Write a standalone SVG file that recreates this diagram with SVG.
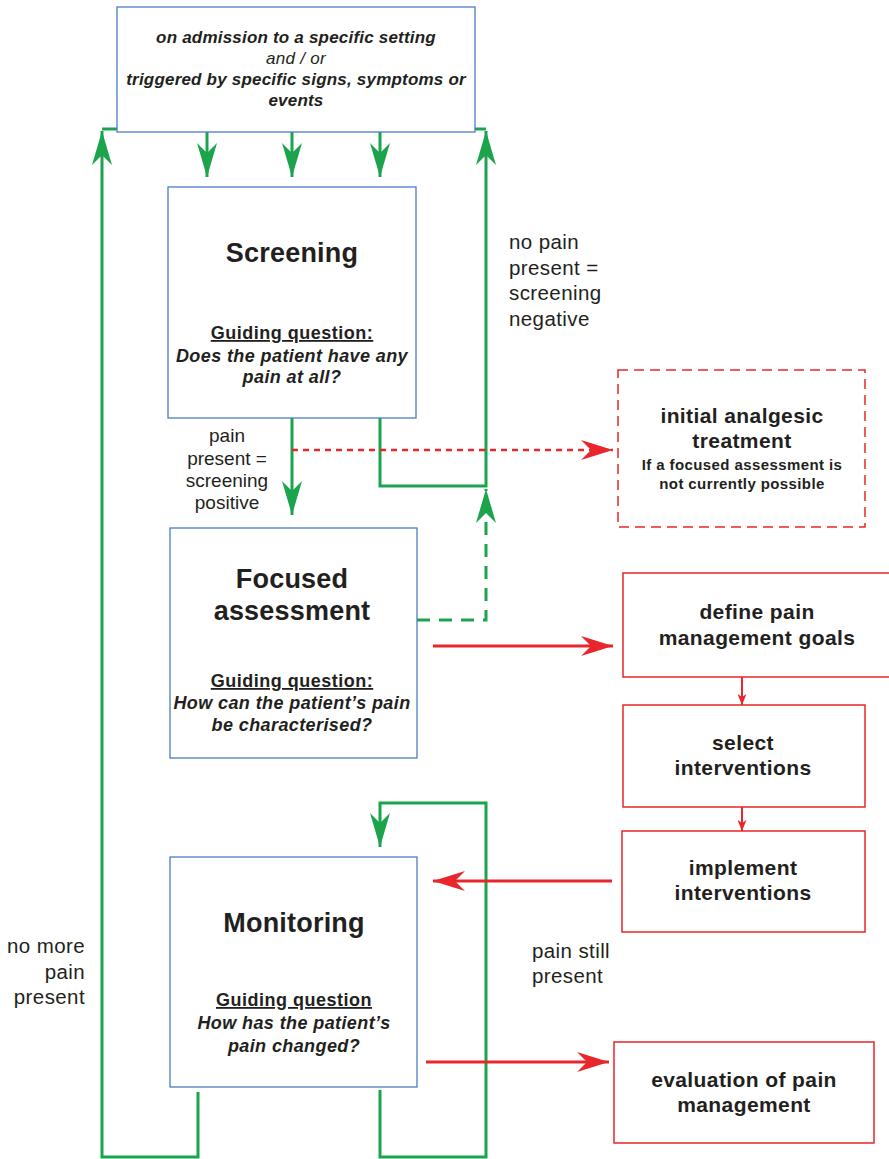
<svg xmlns="http://www.w3.org/2000/svg" width="889" height="1159" viewBox="0 0 889 1159">
<style>
text{font-family:"Liberation Sans",Arial,sans-serif;fill:#231f20;text-anchor:middle}
.box{fill:#fff;stroke:#4a7dc0;stroke-width:1.3}
.rbox{fill:#fff;stroke:#e8262b;stroke-width:1.5}
.dbox{fill:#fff;stroke:#e8262b;stroke-width:1.5;stroke-dasharray:10 6}
.g{fill:none;stroke:#1ba44c;stroke-width:3}
.gd{fill:none;stroke:#1ba44c;stroke-width:3;stroke-dasharray:13 9}
.r{fill:none;stroke:#e8262b;stroke-width:3}
.rd{fill:none;stroke:#e8262b;stroke-width:2.5;stroke-dasharray:6 5}
.rs{fill:none;stroke:#e8262b;stroke-width:2}
.h{font-weight:bold;font-size:27px;letter-spacing:0.2px}
.h2{font-weight:bold;font-size:21px;letter-spacing:0.4px}
.gq{font-weight:bold;font-size:18px;text-decoration:underline;letter-spacing:0.5px}
.q{font-weight:bold;font-style:italic;font-size:18px;letter-spacing:0.4px}
.t{font-weight:bold;font-style:italic;font-size:17px;letter-spacing:0.2px}
.ti{font-style:italic;font-size:17px;letter-spacing:0.3px}
.s{font-weight:bold;font-size:15px;letter-spacing:0.4px}
.l{font-size:20.5px;letter-spacing:0.4px}
.l2{font-size:19px}
</style>
<defs>
<marker id="ag" markerUnits="userSpaceOnUse" viewBox="0 0 34 20" refX="34" refY="10" markerWidth="34" markerHeight="20" orient="auto">
<path d="M0,0 L34,10 L0,20 L10,10 Z" fill="#1ba44c"/>
</marker>
<marker id="ar" markerUnits="userSpaceOnUse" viewBox="0 0 32 20" refX="32" refY="10" markerWidth="32" markerHeight="20" orient="auto">
<path d="M0,0 L32,10 L0,20 L10,10 Z" fill="#e8262b"/>
</marker>
<marker id="as" markerUnits="userSpaceOnUse" viewBox="0 0 11 9" refX="11" refY="4.5" markerWidth="11" markerHeight="9" orient="auto">
<path d="M0,0 L11,4.5 L0,9 L3,4.5 Z" fill="#e8262b"/>
</marker>
</defs>

<g id="connectors">
<path class="g" d="M207,132 V177" marker-end="url(#ag)"/>
<path class="g" d="M292,132 V177" marker-end="url(#ag)"/>
<path class="g" d="M380,132 V177" marker-end="url(#ag)"/>
<path class="g" d="M292,418 V515" marker-end="url(#ag)"/>
<path class="g" d="M380,418 V486 H486 V131" marker-end="url(#ag)"/>
<path class="g" d="M475,129 H486"/>
<path class="gd" d="M417,620 H486 V489" marker-end="url(#ag)"/>
<path class="g" d="M198,1092 V1157 H102 V131" marker-end="url(#ag)"/>
<path class="g" d="M102,129 H117"/>
<path class="g" d="M380,1090 V1157 H486 V803 H380 V847" marker-end="url(#ag)"/>
<path class="rd" d="M292,450 H613" marker-end="url(#ar)"/>
<path class="r" d="M433,646 H613" marker-end="url(#ar)"/>
<path class="rs" d="M742,677 V705" marker-end="url(#as)"/>
<path class="rs" d="M742,807 V831" marker-end="url(#as)"/>
<path class="r" d="M612,881 H433" marker-end="url(#ar)"/>
<path class="r" d="M426,1062 H609" marker-end="url(#ar)"/>
</g>

<g id="trigger">
<rect class="box" x="117" y="7" width="358" height="125"/>
<text class="t" x="296" y="43">on admission to a specific setting</text>
<text class="ti" x="296" y="64">and / or</text>
<text class="t" x="296" y="85">triggered by specific signs, symptoms or</text>
<text class="t" x="296" y="106">events</text>
</g>

<g id="screening">
<rect class="box" x="168" y="187" width="248" height="231"/>
<text class="h" x="292" y="262">Screening</text>
<text class="gq" x="292" y="339">Guiding question:</text>
<text class="q" x="292" y="362">Does the patient have any</text>
<text class="q" x="292" y="383">pain at all?</text>
</g>

<g id="focused">
<rect class="box" x="170" y="528" width="247" height="230"/>
<text class="h" x="292" y="588">Focused</text>
<text class="h" x="292" y="620">assessment</text>
<text class="gq" x="292" y="687">Guiding question:</text>
<text class="q" x="292" y="709">How can the patient’s pain</text>
<text class="q" x="292" y="731">be characterised?</text>
</g>

<g id="monitoring">
<rect class="box" x="170" y="857" width="247" height="230"/>
<text class="h" x="294" y="932">Monitoring</text>
<text class="gq" x="294" y="1006">Guiding question</text>
<text class="q" x="294" y="1029">How has the patient’s</text>
<text class="q" x="294" y="1052">pain changed?</text>
</g>

<g id="initial">
<rect class="dbox" x="618" y="370" width="247" height="157"/>
<text class="h2" x="742" y="423">initial analgesic</text>
<text class="h2" x="742" y="448">treatment</text>
<text class="s" x="742" y="470">If a focused assessment is</text>
<text class="s" x="742" y="489">not currently possible</text>
</g>

<g id="define">
<rect class="rbox" x="623" y="573" width="270" height="104"/>
<text class="h2" x="757" y="619">define pain</text>
<text class="h2" x="757" y="645">management goals</text>
</g>

<g id="select">
<rect class="rbox" x="623" y="705" width="242" height="102"/>
<text class="h2" x="743" y="750">select</text>
<text class="h2" x="743" y="775">interventions</text>
</g>

<g id="implement">
<rect class="rbox" x="622" y="831" width="243" height="101"/>
<text class="h2" x="743" y="875">implement</text>
<text class="h2" x="743" y="900">interventions</text>
</g>

<g id="evaluation">
<rect class="rbox" x="614" y="1042" width="260" height="101"/>
<text class="h2" x="744" y="1087">evaluation of pain</text>
<text class="h2" x="744" y="1112">management</text>
</g>

<g id="labels">
<text class="l" x="509" y="249" style="text-anchor:start">no pain</text>
<text class="l" x="509" y="275" style="text-anchor:start">present =</text>
<text class="l" x="509" y="300" style="text-anchor:start">screening</text>
<text class="l" x="509" y="326" style="text-anchor:start">negative</text>
<text class="l2" x="227" y="442">pain</text>
<text class="l2" x="227" y="465">present =</text>
<text class="l2" x="227" y="487">screening</text>
<text class="l2" x="227" y="509">positive</text>
<text class="l" x="532" y="958" style="text-anchor:start">pain still</text>
<text class="l" x="532" y="983" style="text-anchor:start">present</text>
<text class="l" x="85" y="953" style="text-anchor:end">no more</text>
<text class="l" x="85" y="979" style="text-anchor:end">pain</text>
<text class="l" x="85" y="1004" style="text-anchor:end">present</text>
</g>
</svg>
